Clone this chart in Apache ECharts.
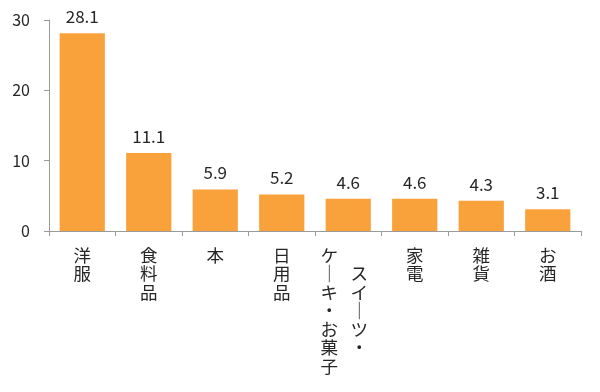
<!DOCTYPE html>
<html>
<head>
<meta charset="utf-8">
<script src="https://cdn.jsdelivr.net/npm/echarts@6/dist/echarts.min.js"></script>
<style>
html,body{margin:0;padding:0;background:#fff;}
#chart{width:600px;height:392px;}
</style>
</head>
<body>
<div id="chart"></div>
<script>
var categories = ['洋服', '食料品', '本', '日用品', 'スイーツ・ケーキ・お菓子', '家電', '雑貨', 'お酒'];
var values = [28.1, 11.1, 5.9, 5.2, 4.6, 4.6, 4.3, 3.1];
var yTicks = [0, 10, 20, 30];

var FONT = '"Noto Sans CJK JP", "Noto Sans", sans-serif';
var TEXT = '#262626';
var AXIS = '#9a9a9a';
var FS = 17.5, LH = 18.5;

function vchar(ch) { return ch === 'ー' ? '｜' : ch; }

function verticalLabel(name) {
  var chars = Array.from(name);
  if (chars.length <= 6) {
    return chars.map(function (c) { return '{s|' + vchar(c) + '}'; }).join('\n');
  }
  // two columns (vertical writing: first column on the right)
  var col1 = chars.slice(0, 5);
  var col2 = chars.slice(5);
  var off = Math.floor((col2.length - col1.length) / 2);
  var rows = [];
  for (var i = 0; i < col2.length; i++) {
    var l = col2[i] ? vchar(col2[i]) : '　';
    var rc = col1[i - off];
    var r = rc ? vchar(rc) : '　';
    rows.push('{c|' + l + '}{c|' + r + '}{p| }');
  }
  return rows.join('\n');
}

var chart = echarts.init(document.getElementById('chart'), null, {renderer: 'canvas'});
chart.setOption({
  animation: false,
  backgroundColor: '#fff',
  grid: {left: 49, right: 19, top: 20, bottom: 161, containLabel: false},
  xAxis: {
    type: 'category',
    data: categories,
    axisLine: {lineStyle: {color: AXIS, width: 1}},
    axisTick: {show: true, length: 5, lineStyle: {color: AXIS}},
    axisLabel: {
      interval: 0,
      margin: 15,
      color: TEXT,
      fontFamily: FONT,
      fontSize: FS,
      lineHeight: LH,
      formatter: verticalLabel,
      rich: {
        s: {fontFamily: FONT, fontSize: FS, lineHeight: LH, color: TEXT},
        c: {fontFamily: FONT, fontSize: FS, lineHeight: LH, color: TEXT, width: 30, align: 'center'},
        p: {fontFamily: FONT, fontSize: FS, lineHeight: LH, width: 8}
      }
    }
  },
  yAxis: {
    type: 'value',
    min: yTicks[0],
    max: yTicks[yTicks.length - 1],
    interval: 10,
    splitLine: {show: false},
    axisLine: {show: true, lineStyle: {color: AXIS, width: 1}},
    axisTick: {show: true, length: 5, lineStyle: {color: AXIS}},
    axisLabel: {margin: 19, color: TEXT, fontFamily: FONT, fontSize: 16}
  },
  series: [{
    type: 'bar',
    data: values,
    barCategoryGap: '32%',
    itemStyle: {color: '#F9A23B'},
    label: {
      show: true,
      position: 'top',
      distance: 8,
      color: TEXT,
      fontFamily: FONT,
      fontSize: 17,
      formatter: function (p) { return p.value.toFixed(1); }
    }
  }]
});
</script>
</body>
</html>
